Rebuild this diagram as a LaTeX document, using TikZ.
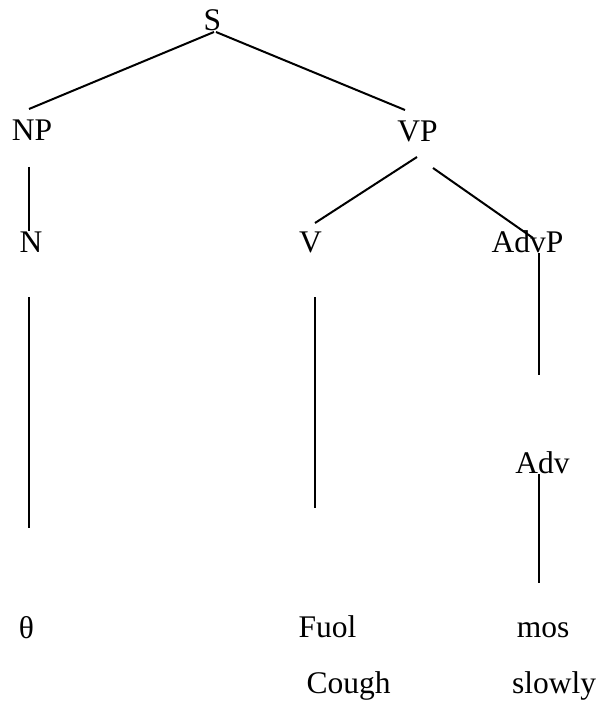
\documentclass[tikz,border=0pt]{standalone}
\usepackage{fontspec}
\setmainfont{Liberation Serif}
\begin{document}
\begin{tikzpicture}[x=1pt,y=-1pt,
  lbl/.style={font=\fontsize{31.5}{36}\selectfont, inner sep=0pt, anchor=base},
  branch/.style={line width=2pt, black}]
\useasboundingbox (0,0) rectangle (599,703);
% category labels
\node[lbl] (S) at (212.5,31) {S};
\node[lbl] (NP) at (32,141) {NP};
\node[lbl] (VP) at (417.5,142) {VP};
\node[lbl] (N) at (31,252) {N};
\node[lbl] (V) at (310.5,252) {V};
\node[lbl] (AdvP) at (527.5,252) {AdvP};
\node[lbl] (Adv) at (542.5,473) {Adv};
% words and glosses
\node[lbl] (theta) at (26.5,638) {θ};
\node[lbl] (Fuol) at (327.5,637) {Fuol};
\node[lbl] (mos) at (543,637) {mos};
\node[lbl] (Cough) at (348.5,693) {Cough};
\node[lbl] (slowly) at (554,693) {slowly};
% branch end points
\coordinate (s1) at (214,32);  \coordinate (np1) at (29,109);
\coordinate (s2) at (216,32);  \coordinate (vp1) at (405,110);
\coordinate (np2) at (29,167); \coordinate (n1) at (29,231);
\coordinate (vp2) at (417,157); \coordinate (v1) at (315,223);
\coordinate (vp3) at (433,168); \coordinate (ap1) at (533,238);
\coordinate (n2) at (29,297);  \coordinate (th1) at (29,528);
\coordinate (v2) at (315,297); \coordinate (fu1) at (315,508);
\coordinate (ap2) at (539,253); \coordinate (ad1) at (539,375);
\coordinate (ad2) at (539,474); \coordinate (mo1) at (539,583);
% branches
\draw[branch] (s1) -- (np1);
\draw[branch] (s2) -- (vp1);
\draw[branch] (np2) -- (n1);
\draw[branch] (vp2) -- (v1);
\draw[branch] (vp3) -- (ap1);
\draw[branch] (n2) -- (th1);
\draw[branch] (v2) -- (fu1);
\draw[branch] (ap2) -- (ad1);
\draw[branch] (ad2) -- (mo1);
\end{tikzpicture}
\end{document}
